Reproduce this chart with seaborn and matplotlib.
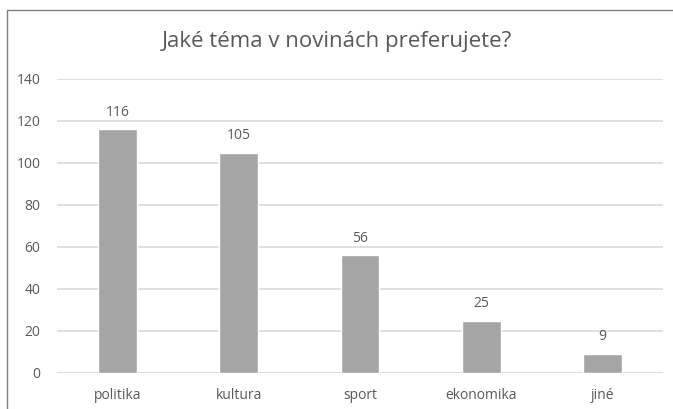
import matplotlib
matplotlib.use("Agg")
import matplotlib.pyplot as plt
import seaborn as sns
import pandas as pd
from matplotlib.lines import Line2D

# Data
categories = ["politika", "kultura", "sport", "ekonomika", "jiné"]
values = [116, 105, 56, 25, 9]
y_ticks = [0, 20, 40, 60, 80, 100, 120, 140]

TEXT = "#595959"
BAR = "#A5A5A5"
GRID = "#D9D9D9"

sns.set_theme(style="white")
plt.rcParams["font.family"] = ["Open Sans", "DejaVu Sans"]

df = pd.DataFrame({"tema": categories, "pocet": values})

fig = plt.figure(figsize=(6.73, 4.09), dpi=100)
ax = fig.add_axes([57 / 673, 36 / 409, 606 / 673, 294 / 409])

sns.barplot(data=df, x="tema", y="pocet", color=BAR, width=0.32,
            saturation=1, ax=ax, zorder=3)

ax.set_ylim(0, 140)
ax.set_yticks(y_ticks)
ax.yaxis.grid(True, color=GRID, linewidth=1.2)
ax.set_axisbelow(True)
for s in ax.spines.values():
    s.set_visible(False)
ax.axhline(0, color=GRID, linewidth=1.2, zorder=2)
ax.tick_params(axis="both", length=0, labelsize=10, colors=TEXT)
ax.tick_params(axis="y", pad=12)
ax.tick_params(axis="x", pad=11)
ax.set_xlabel("")
ax.set_ylabel("")

for c in ax.containers:
    ax.bar_label(c, padding=7, fontsize=10, color=TEXT)

fig.text(0.5, 1 - 41 / 409, "Jaké téma v novinách preferujete?",
         ha="center", va="center", fontsize=16, color=TEXT)

# chart frame (top and left edges visible)
fig.add_artist(Line2D([7 / 673, 1], [1 - 10 / 409, 1 - 10 / 409],
                      transform=fig.transFigure, color="#7F7F7F", linewidth=1))
fig.add_artist(Line2D([7 / 673, 7 / 673], [0, 1 - 10 / 409],
                      transform=fig.transFigure, color="#7F7F7F", linewidth=1))

fig.savefig("out.png", dpi=100, facecolor="white")
